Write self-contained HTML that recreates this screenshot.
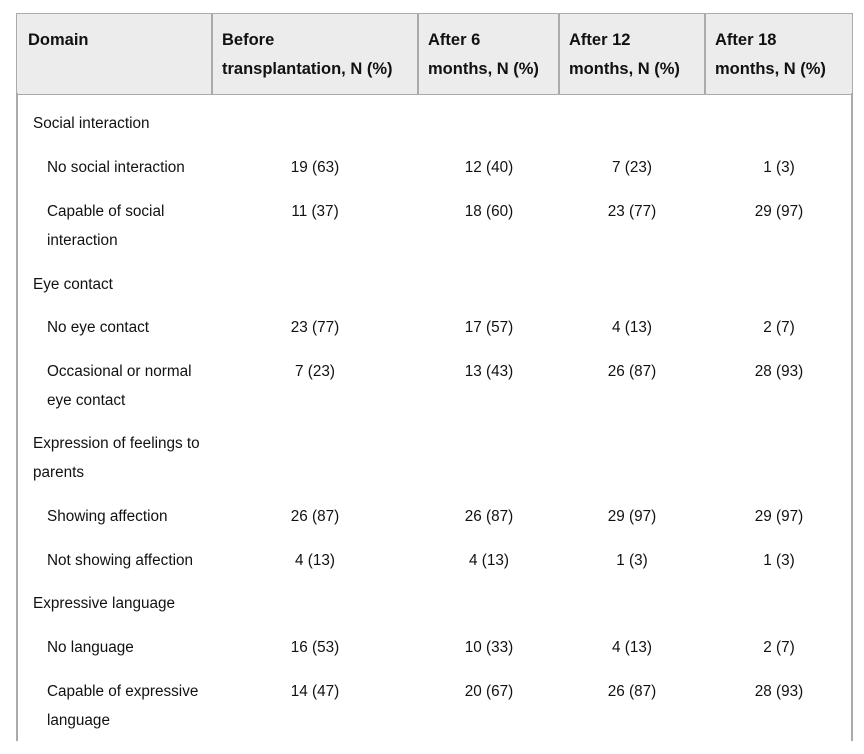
<!DOCTYPE html><html><head><style>
body{margin:0;width:864px;height:754px;background:#fff;position:relative;overflow:hidden;font-family:"Liberation Sans","DejaVu Sans",sans-serif;color:#111;font-size:15.3px}
.t{position:absolute;line-height:29px;white-space:nowrap}
.h{font-weight:bold;font-size:16.5px}
.c{width:200px;text-align:center}
</style></head><body>
<div style="position:absolute;left:16px;top:13px;width:835px;height:80px;background:#ececec;border:1.5px solid #aaa"></div>
<div style="position:absolute;left:211px;top:14px;width:1.5px;height:80px;background:#aaa"></div>
<div style="position:absolute;left:417px;top:14px;width:1.5px;height:80px;background:#aaa"></div>
<div style="position:absolute;left:558px;top:14px;width:1.5px;height:80px;background:#aaa"></div>
<div style="position:absolute;left:704px;top:14px;width:1.5px;height:80px;background:#aaa"></div>
<div style="position:absolute;left:16px;top:93px;width:1.5px;height:648px;background:#aaa"></div>
<div style="position:absolute;left:851px;top:93px;width:1.5px;height:648px;background:#aaa"></div>
<div class="t h" style="left:28px;top:26px">Domain</div>
<div class="t h" style="left:222px;top:26px">Before<br>transplantation, N (%)</div>
<div class="t h" style="left:428px;top:26px">After 6<br>months, N (%)</div>
<div class="t h" style="left:569px;top:26px">After 12<br>months, N (%)</div>
<div class="t h" style="left:715px;top:26px">After 18<br>months, N (%)</div>

<div class="t" style="left:33px;top:109px">Social interaction</div>
<div class="t" style="left:47px;top:153px">No social interaction</div>
<div class="t" style="left:47px;top:197px">Capable of social<br>interaction</div>
<div class="t" style="left:33px;top:270px">Eye contact</div>
<div class="t" style="left:47px;top:313px">No eye contact</div>
<div class="t" style="left:47px;top:357px">Occasional or normal<br>eye contact</div>
<div class="t" style="left:33px;top:429px">Expression of feelings to<br>parents</div>
<div class="t" style="left:47px;top:502px">Showing affection</div>
<div class="t" style="left:47px;top:546px">Not showing affection</div>
<div class="t" style="left:33px;top:589px">Expressive language</div>
<div class="t" style="left:47px;top:633px">No language</div>
<div class="t" style="left:47px;top:677px">Capable of expressive<br>language</div>

<div id="d"></div>
<script>
var rows=[[153,"19 (63)","12 (40)","7 (23)","1 (3)"],[197,"11 (37)","18 (60)","23 (77)","29 (97)"],[313,"23 (77)","17 (57)","4 (13)","2 (7)"],[357,"7 (23)","13 (43)","26 (87)","28 (93)"],[502,"26 (87)","26 (87)","29 (97)","29 (97)"],[546,"4 (13)","4 (13)","1 (3)","1 (3)"],[633,"16 (53)","10 (33)","4 (13)","2 (7)"],[677,"14 (47)","20 (67)","26 (87)","28 (93)"]];
var cx=[315,489,632,779],h="";
rows.forEach(function(r){for(var i=0;i<4;i++)h+='<div class="t c" style="left:'+(cx[i]-100)+'px;top:'+r[0]+'px">'+r[i+1]+'</div>';});
document.getElementById("d").innerHTML=h;
</script>
</body></html>
